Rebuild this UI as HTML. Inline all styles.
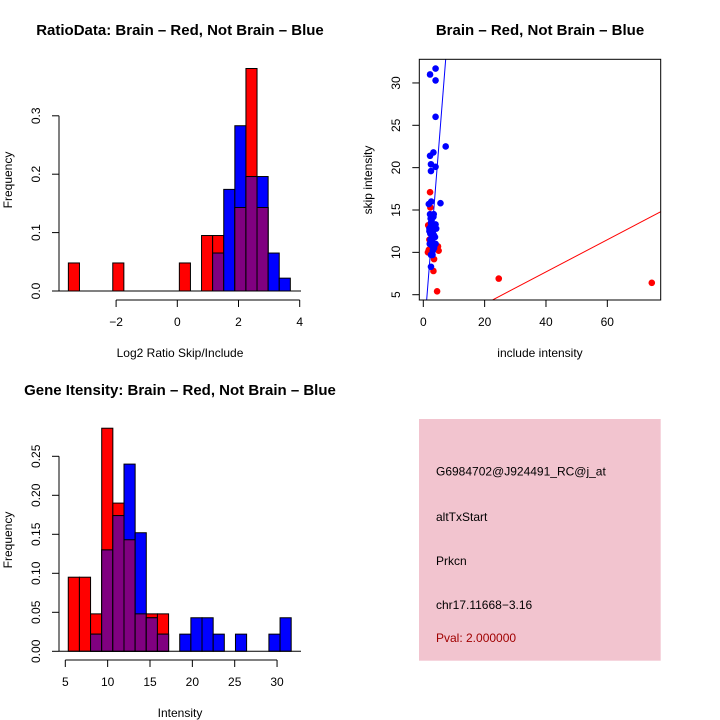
<!DOCTYPE html>
<html><head><meta charset="utf-8"><style>
body{margin:0;background:#fff}
svg{display:block;font-family:"Liberation Sans","DejaVu Sans",sans-serif}
</style></head><body>
<svg id="c" width="720" height="720" viewBox="0 0 720 720">
<rect width="720" height="720" fill="#fff"/>
</svg>
<script>
// ---- Data: panel 1 (log2 ratio histogram) ----
const ratioRed  = [0.048,0,0,0,0.048,0,0,0,0,0,0.048,0,0.095,0.095,0,0.143,0.381,0.143,0,0];
const ratioBlue = [0,0,0,0,0,0,0,0,0,0,0,0,0,0.065,0.174,0.283,0.196,0.196,0.065,0.022];
const ratioStart = -3.56, ratioWidth = 0.3627;
const ratioXTicks = [-2,0,2,4];
const ratioYTicks = ["0.0","0.1","0.2","0.3"];
// ---- Data: panel 3 (intensity histogram) ----
const intRed  = [0.095,0.095,0.048,0.286,0.19,0.143,0.048,0.048,0.048,0,0,0,0,0,0,0,0,0,0,0];
const intBlue = [0,0,0.022,0.13,0.174,0.24,0.152,0.043,0.022,0,0.022,0.043,0.043,0.022,0,0.022,0,0,0.022,0.043];
const intStart = 5.35, intWidth = 1.316;
const intXTicks = [5,10,15,20,25,30];
const intYTicks = ["0.00","0.05","0.10","0.15","0.20","0.25"];
// ---- Data: panel 2 (scatter) ----
const redX = [2.2,2.3,1.6,1.5,1.8,4.8,5.0,3.5,3.3,4.5,24.6,74.5,2.0,2.4,2.6,3.0];
const redY = [17.1,15.3,13.2,10.0,10.3,10.7,10.2,9.2,7.8,5.4,6.9,6.4,11.5,12.5,10.5,12.0];
const blueX = [4.0,2.2,4.0,4.0,7.3,2.2,3.3,2.5,4.0,2.5,1.8,2.6,5.6,2.2,3.4,2.5,4.0,2.0,3.0,4.2,2.3,3.5,2.3,3.0,4.0,2.8,3.5,2.5,3.0,2.5,2.0,3.2,2.7,3.8,2.4,2.9,3.6,2.1,3.1,2.6,2.2,3.3];
const blueY = [31.7,31.0,30.3,26.0,22.5,21.4,21.8,20.4,20.1,19.6,15.7,16.0,15.8,14.5,14.5,13.5,13.3,12.8,13.0,12.8,12.2,12.0,11.5,11.2,11.0,10.8,10.5,9.7,9.7,8.3,12.5,12.5,13.8,11.8,14.0,12.3,13.0,11.0,10.2,13.3,12.9,14.2];
const blueFit = [-0.64, 4.58]; // intercept, slope
const redFit = [0.09, 0.19];
const scXTicks = [0,20,40,60];
const scYTicks = [5,10,15,20,25,30];

const NS="http://www.w3.org/2000/svg";
const svg=document.getElementById('c');
function mk(tag,attrs,parent){const e=document.createElementNS(NS,tag);for(const k in attrs)e.setAttribute(k,attrs[k]);(parent||svg).appendChild(e);return e;}
function txt(s,x,y,size,opts,parent){const t=mk('text',Object.assign({x:x,y:y,'font-size':size,'text-anchor':'middle',fill:'#000'},opts||{}),parent);t.textContent=s;return t;}

function hist(g,red,blue,start,width,sx,sy){
  for(let i=0;i<red.length;i++){
    const x0=sx(start+i*width), x1=sx(start+(i+1)*width);
    const r=red[i], b=blue[i], m=Math.min(r,b);
    if(r>0){const e=mk('rect',{x:x0,y:sy(r),width:x1-x0,height:sy(0)-sy(r),fill:'#ff0000',stroke:'#000','stroke-width':1},g);
      
      }
    if(b>0){const e=mk('rect',{x:x0,y:sy(b),width:x1-x0,height:sy(0)-sy(b),fill:'#0000ff',stroke:'#000','stroke-width':1},g);
      
      }
    if(m>0){const e=mk('rect',{x:x0,y:sy(m),width:x1-x0,height:sy(0)-sy(m),fill:'#800080',stroke:'#000','stroke-width':1},g);
      
      }
  }
}

// Panel 1
{
  const g=mk('g',{});
  
  
  const sx=v=>177.3+v*30.6, sy=v=>291-v*584;
  hist(g,ratioRed,ratioBlue,ratioStart,ratioWidth,sx,sy);
  mk('line',{x1:59,y1:291,x2:301,y2:291,stroke:'#000'},g);
  mk('line',{x1:59,y1:sy(0),x2:59,y2:sy(0.3),stroke:'#000'},g);
  ratioYTicks.forEach(t=>{const y=sy(parseFloat(t));mk('line',{x1:52,y1:y,x2:59,y2:y,stroke:'#000'},g);
    const e=txt(t,40,y,12,{transform:'rotate(-90 40 '+y+')'},g);});
  mk('line',{x1:sx(-2),y1:300,x2:sx(4),y2:300,stroke:'#000'},g);
  ratioXTicks.forEach(t=>{const x=sx(t);mk('line',{x1:x,y1:300,x2:x,y2:307,stroke:'#000'},g);
    const e=txt(t<0?'\u2212'+(-t):String(t),x,326,12,{},g);});
  const t1=txt('RatioData: Brain \u2013 Red, Not Brain \u2013 Blue',180,35,15,{'font-weight':'bold'},g);
  const t2=txt('Log2 Ratio Skip/Include',180,357,12,{},g);
  const t3=txt('Frequency',12,180,12,{transform:'rotate(-90 12 180)'},g);
}

// Panel 3
{
  const g=mk('g',{});
  
  
  const sx=v=>65.3+(v-5)*8.47, sy=v=>651.3-v*780;
  hist(g,intRed,intBlue,intStart,intWidth,sx,sy);
  mk('line',{x1:59,y1:651.3,x2:301,y2:651.3,stroke:'#000'},g);
  mk('line',{x1:59,y1:sy(0),x2:59,y2:sy(0.25),stroke:'#000'},g);
  intYTicks.forEach(t=>{const y=sy(parseFloat(t));mk('line',{x1:52,y1:y,x2:59,y2:y,stroke:'#000'},g);
    const e=txt(t,40,y,12,{transform:'rotate(-90 40 '+y+')'},g);});
  mk('line',{x1:sx(5),y1:660,x2:sx(30),y2:660,stroke:'#000'},g);
  intXTicks.forEach(t=>{const x=sx(t);mk('line',{x1:x,y1:660,x2:x,y2:667,stroke:'#000'},g);
    const e=txt(String(t),x,686,12,{},g);});
  const t1=txt('Gene Itensity: Brain \u2013 Red, Not Brain \u2013 Blue',180,395,15,{'font-weight':'bold'},g);
  const t2=txt('Intensity',180,717,12,{},g);
  const t3=txt('Frequency',12,540,12,{transform:'rotate(-90 12 540)'},g);
}

// Panel 2 scatter
{
  const g=mk('g',{});
  
  
  const sx=v=>423.3+v*3.067, sy=v=>294.7-(v-5)*8.47;
  const L=419.3,R=660.7,T=59.3,B=300;
  const clip=mk('clipPath',{id:'sc'},g);mk('rect',{x:L,y:T,width:R-L,height:B-T},clip);
  const pg=mk('g',{'clip-path':'url(#sc)'},g);
  redX.forEach((x,i)=>{const e=mk('circle',{cx:sx(x),cy:sy(redY[i]),r:3.3,fill:'#ff0000'},pg);
    });
  blueX.forEach((x,i)=>{const e=mk('circle',{cx:sx(x),cy:sy(blueY[i]),r:3.3,fill:'#0000ff'},pg);
    });
  const fx0=-2,fx1=80;
  const bl=mk('line',{x1:sx(fx0),y1:sy(blueFit[0]+blueFit[1]*fx0),x2:sx(fx1),y2:sy(blueFit[0]+blueFit[1]*fx1),stroke:'#0000ff','stroke-width':1},pg);
  
  const rl=mk('line',{x1:sx(fx0),y1:sy(redFit[0]+redFit[1]*fx0),x2:sx(fx1),y2:sy(redFit[0]+redFit[1]*fx1),stroke:'#ff0000','stroke-width':1},pg);
  
  mk('rect',{x:L,y:T,width:R-L,height:B-T,fill:'none',stroke:'#000'},g);
  scXTicks.forEach(t=>{const x=sx(t);mk('line',{x1:x,y1:B,x2:x,y2:B+7,stroke:'#000'},g);
    const e=txt(String(t),x,326,12,{},g);});
  scYTicks.forEach(t=>{const y=sy(t);mk('line',{x1:L-7,y1:y,x2:L,y2:y,stroke:'#000'},g);
    const e=txt(String(t),400,y,12,{transform:'rotate(-90 400 '+y+')'},g);});
  const t1=txt('Brain \u2013 Red, Not Brain \u2013 Blue',540,35,15,{'font-weight':'bold'},g);
  const t2=txt('include intensity',540,357,12,{},g);
  const t3=txt('skip intensity',372,180,12,{transform:'rotate(-90 372 180)'},g);
}

// Panel 4 info box
{
  const g=mk('g',{});
  
  
  mk('rect',{x:419,y:419,width:241.7,height:241.7,fill:'#f2c4cf'},g);
  const lines=[['G6984702@J924491_RC@j_at',475.7,'#000','probe-id'],['altTxStart',521,'#000','event-type'],['Prkcn',565,'#000','gene-name'],['chr17.11668\u22123.16',609,'#000','location'],['Pval: 2.000000',642,'#a00000','pvalue']];
  lines.forEach(l=>{const e=txt(l[0],436,l[1],12,{'text-anchor':'start',fill:l[2]},g);
    });
}
</script>
</body></html>
